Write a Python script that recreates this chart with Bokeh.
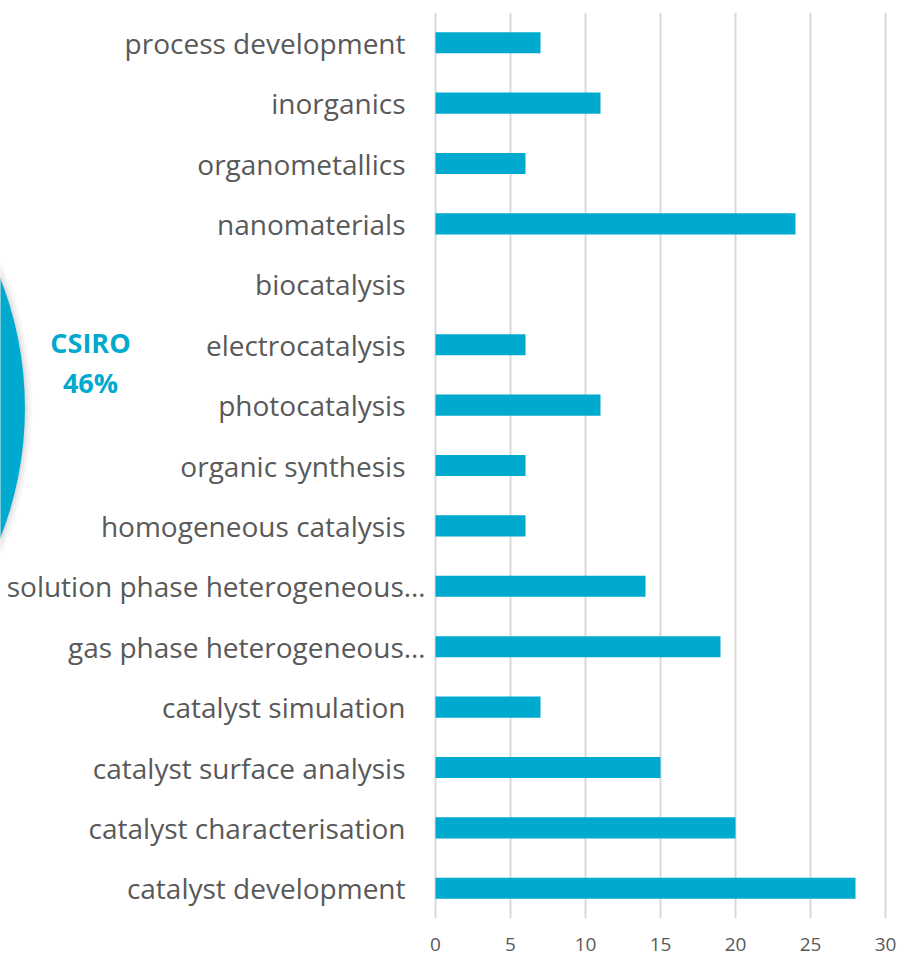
from bokeh.plotting import figure
from bokeh.models import FactorRange, Range1d, FixedTicker, ColumnDataSource
from bokeh.core.properties import value
from bokeh.embed import file_html
from bokeh.resources import INLINE

# ---- data (top to bottom as shown) ----
categories = [
    "process development",
    "inorganics",
    "organometallics",
    "nanomaterials",
    "biocatalysis",
    "electrocatalysis",
    "photocatalysis",
    "organic synthesis",
    "homogeneous catalysis",
    "solution phase heterogeneous…",
    "gas phase heterogeneous…",
    "catalyst simulation",
    "catalyst surface analysis",
    "catalyst characterisation",
    "catalyst development",
]
counts = [7, 11, 6, 24, 0, 6, 11, 6, 6, 14, 19, 7, 15, 20, 28]
x_ticks = [0, 5, 10, 15, 20, 25, 30]
csiro_label = "CSIRO"
csiro_share = 46

TEAL = "#00A9CE"
GREY_TXT = "#595959"
FONT = "Open Sans"

p = figure(
    width=900, height=958,
    y_range=FactorRange(factors=list(reversed(categories)), range_padding=0, factor_padding=0),
    x_range=Range1d(-29.0, 31.0),
    y_axis_location=None,
    output_backend="svg", toolbar_location=None,
    min_border_left=0, min_border_right=0, min_border_top=12, min_border_bottom=40,
)
p.outline_line_color = None
p.background_fill_color = "white"
p.border_fill_color = "white"

# grid
p.xgrid.ticker = FixedTicker(ticks=x_ticks)
p.xgrid.grid_line_color = "#d9d9d9"
p.xgrid.grid_line_width = 2
p.ygrid.visible = False

# x axis
p.xaxis.ticker = FixedTicker(ticks=x_ticks)
p.xaxis.axis_line_color = None
p.xaxis.major_tick_line_color = None
p.xaxis.minor_tick_line_color = None
p.xaxis.major_label_text_font = FONT
p.xaxis.major_label_text_font_size = "19px"
p.xaxis.major_label_text_color = GREY_TXT
p.xaxis.major_label_standoff = 13

# bars
src = ColumnDataSource(dict(
    cat=categories,
    val=counts,
    off=[-10 if c.endswith("…") else -30 for c in categories],
    zero=[0] * len(categories),
))
p.hbar(y="cat", left=0, right="val", height=0.35, source=src,
       fill_color=TEAL, line_color=None)

# category labels
p.text(x="zero", y="cat", text="cat", source=src, x_offset="off",
       text_align="right", text_baseline="middle",
       text_font=value(FONT), text_font_size="28px", text_color=GREY_TXT)

# decorative partial pie circle (from a neighbouring chart) with soft shadow
cx, cy, r = -51.0, 8.45, 23.63
for extra, alpha in [(0.5, 0.025), (0.35, 0.03), (0.2, 0.04), (0.08, 0.05)]:
    p.circle(x=[cx], y=[cy], radius=r + extra, fill_color="black", fill_alpha=alpha, line_color=None)
p.circle(x=[cx], y=[cy], radius=r, fill_color=TEAL, line_color=None)

p.text(x=[-23.0], y=[9.536], text=[csiro_label], text_align="center", text_baseline="middle",
       text_font=value(FONT), text_font_style="bold", text_font_size="27px", text_color=TEAL)
p.text(x=[-23.0], y=[8.874], text=[f"{csiro_share}%"], text_align="center", text_baseline="middle",
       text_font=value(FONT), text_font_style="bold", text_font_size="27px", text_color=TEAL)

open("out.html", "w").write(file_html(p, INLINE))
